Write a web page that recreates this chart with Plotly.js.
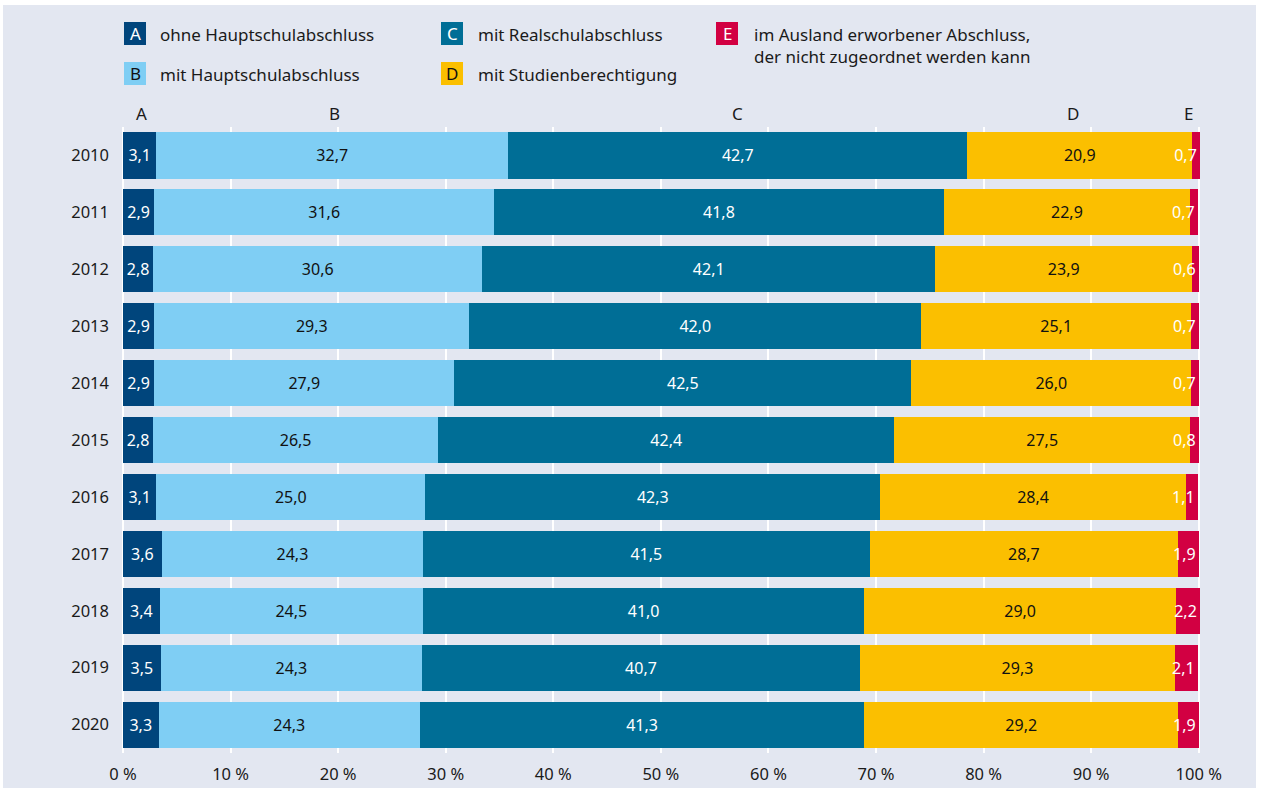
<!DOCTYPE html>
<html>
<head>
<meta charset="utf-8">
<script src="https://cdn.plot.ly/plotly-3.0.1.min.js"></script>
<style>
html,body{margin:0;padding:0;background:#ffffff;width:1261px;height:791px;overflow:hidden;}
#chart{position:absolute;left:3px;top:5px;width:1253px;height:783px;}
</style>
</head>
<body>
<div id="chart"></div>
<script>
// ---- data ----
const years = ['2010','2011','2012','2013','2014','2015','2016','2017','2018','2019','2020'];
const seriesA = [3.1, 2.9, 2.8, 2.9, 2.9, 2.8, 3.1, 3.6, 3.4, 3.5, 3.3];
const seriesB = [32.7, 31.6, 30.6, 29.3, 27.9, 26.5, 25.0, 24.3, 24.5, 24.3, 24.3];
const seriesC = [42.7, 41.8, 42.1, 42.0, 42.5, 42.4, 42.3, 41.5, 41.0, 40.7, 41.3];
const seriesD = [20.9, 22.9, 23.9, 25.1, 26.0, 27.5, 28.4, 28.7, 29.0, 29.3, 29.2];
const seriesE = [0.7, 0.7, 0.6, 0.7, 0.7, 0.8, 1.1, 1.9, 2.2, 2.1, 1.9];
const seriesLetters = ['A','B','C','D','E'];
const legendLabels = [
  'ohne Hauptschulabschluss',
  'mit Hauptschulabschluss',
  'mit Realschulabschluss',
  'mit Studienberechtigung',
  'im Ausland erworbener Abschluss,<br>der nicht zugeordnet werden kann'
];
const tickVals = [0,10,20,30,40,50,60,70,80,90,100];
const tickText = tickVals.map(v => v + ' %');

// ---- style ----
const colors = ['#00457c','#7fcef4','#006e96','#fbbf00','#d20042'];
const textColors = ['#ffffff','#111111','#ffffff','#111111','#ffffff'];
const FONT = '"Noto Sans", "Open Sans", sans-serif';
const BG = '#e3e7f1';
const allSeries = [seriesA, seriesB, seriesC, seriesD, seriesE];

const traces = allSeries.map((vals, i) => ({
  type: 'bar',
  orientation: 'h',
  name: seriesLetters[i],
  y: years,
  x: vals,
  marker: {color: colors[i], line: {width: 0}},
  texttemplate: '%{x:.1f}',
  textposition: 'inside',
  insidetextanchor: i === 4 ? 'end' : 'middle',
  constraintext: 'none',
  textangle: 0,
  cliponaxis: false,
  textfont: {family: FONT, size: 16, color: textColors[i]},
  hoverinfo: 'skip'
}));

// pixel helpers (div is offset by 3,5 in page)
const W = 1253, H = 783;
const M = {l: 120, r: 56, t: 122, b: 35};
const pw = W - M.l - M.r, ph = H - M.t - M.b;
const px = p => ((p - 3) - M.l) / pw;
const py = p => (H - M.b - (p - 5)) / ph;

const shapes = [];
const annotations = [];
const legendPos = [
  {bx:124, by:22, tx:158},
  {bx:124, by:62, tx:158},
  {bx:441, by:22, tx:476},
  {bx:441, by:62, tx:476},
  {bx:716, by:22, tx:752}
];
legendPos.forEach((p, i) => {
  shapes.push({type:'rect', xref:'paper', yref:'paper',
    x0: px(p.bx), x1: px(p.bx+22), y0: py(p.by+23), y1: py(p.by),
    fillcolor: colors[i], line:{width:0}, layer:'above'});
  annotations.push({xref:'paper', yref:'paper', x: px(p.bx+11), y: py(p.by+11.5),
    text: seriesLetters[i], showarrow:false, xanchor:'center', yanchor:'middle',
    font:{family:FONT, size:17, color:textColors[i]}});
  annotations.push({xref:'paper', yref:'paper', x: px(p.tx), y: py(p.by - 1),
    text: legendLabels[i], showarrow:false, xanchor:'left', yanchor:'top', align:'left',
    font:{family:FONT, size:17, color:'#1a1a1a'}});
});
// column headers
const headerX = [141, 334, 737, 1073, 1188];
headerX.forEach((x, i) => {
  annotations.push({xref:'paper', yref:'paper', x: px(x), y: py(113), text: seriesLetters[i],
    showarrow:false, xanchor:'center', yanchor:'middle',
    font:{family:FONT, size:17, color:'#1a1a1a'}});
});

const layout = {
  width: W, height: H,
  margin: M,
  paper_bgcolor: BG,
  plot_bgcolor: BG,
  barmode: 'stack',
  bargap: 0.19,
  separators: ', ',
  showlegend: false,
  font: {family: FONT, size: 16, color: '#1a1a1a'},
  xaxis: {
    range: [0, 100.12],
    tickmode: 'array',
    tickvals: tickVals,
    ticktext: tickText,
    showgrid: true, gridcolor: '#ffffff', gridwidth: 2,
    zeroline: true, zerolinecolor: '#ffffff', zerolinewidth: 2,
    showline: false, ticks: '',
    ticklabelstandoff: 9,
    tickfont: {family: FONT, size: 16.5, color: '#1a1a1a'},
    fixedrange: true
  },
  yaxis: {
    type: 'category',
    autorange: 'reversed',
    showgrid: false, zeroline: false, showline: false, ticks: '',
    ticklabelstandoff: 13,
    tickfont: {family: FONT, size: 16.5, color: '#1a1a1a'},
    fixedrange: true
  },
  shapes: shapes,
  annotations: annotations
};

Plotly.newPlot('chart', traces, layout, {displayModeBar: false, staticPlot: true});
</script>
</body>
</html>
